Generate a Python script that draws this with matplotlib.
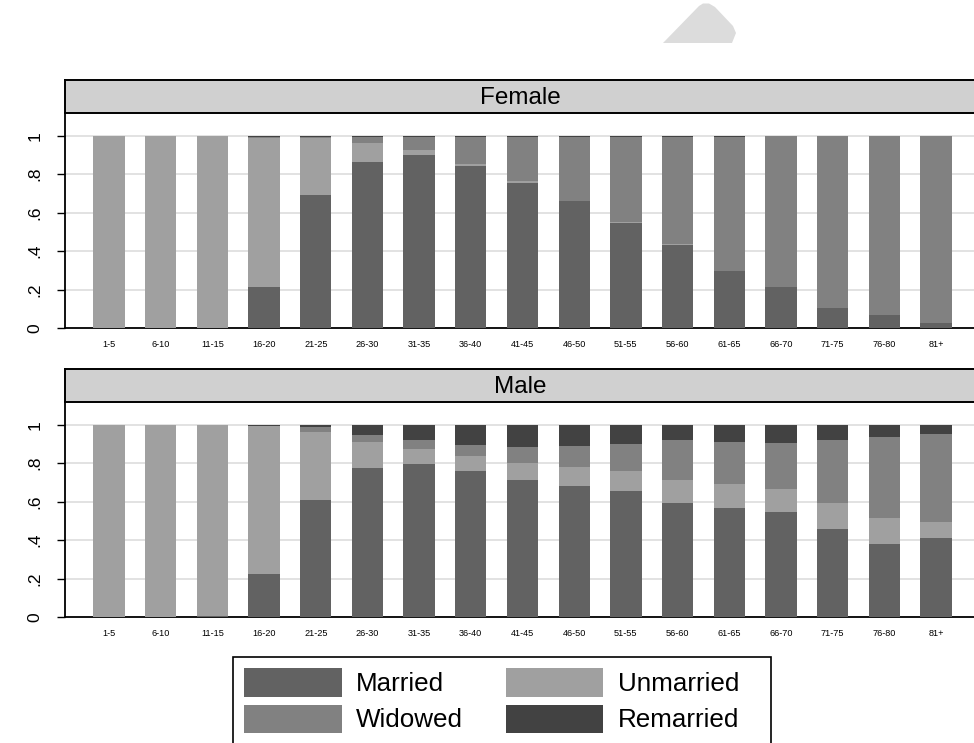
import matplotlib
matplotlib.use("Agg")
import matplotlib.pyplot as plt
import numpy as np
from matplotlib.patches import Patch, Polygon, Rectangle

plt.rcParams["font.family"] = ["Liberation Sans", "DejaVu Sans"]

age_groups = ["1-5", "6-10", "11-15", "16-20", "21-25", "26-30", "31-35", "36-40",
              "41-45", "46-50", "51-55", "56-60", "61-65", "66-70", "71-75", "76-80", "81+"]

female_married = [0, 0, 0, 0.214, 0.690, 0.865, 0.898, 0.844, 0.756, 0.659, 0.548,
                  0.434, 0.297, 0.214, 0.105, 0.069, 0.027]
female_unmarried = [1, 1, 1, 0.776, 0.296, 0.097, 0.026, 0.007, 0.009, 0.003, 0.002,
                    0.001, 0.001, 0, 0, 0, 0]
female_widowed = [0, 0, 0, 0.003, 0.009, 0.033, 0.071, 0.144, 0.230, 0.333, 0.445,
                  0.557, 0.694, 0.786, 0.895, 0.931, 0.973]
female_remarried = [0, 0, 0, 0.007, 0.005, 0.005, 0.005, 0.005, 0.005, 0.005, 0.005,
                    0.008, 0.008, 0, 0, 0, 0]

male_married = [0, 0, 0.005, 0.222, 0.608, 0.774, 0.795, 0.760, 0.712, 0.679, 0.656,
                0.594, 0.568, 0.545, 0.458, 0.378, 0.411]
male_unmarried = [1, 1, 0.995, 0.770, 0.356, 0.137, 0.080, 0.079, 0.090, 0.099, 0.104,
                  0.118, 0.123, 0.122, 0.134, 0.138, 0.084]
male_widowed = [0, 0, 0, 0.002, 0.022, 0.037, 0.047, 0.055, 0.083, 0.111, 0.139,
                0.206, 0.220, 0.239, 0.330, 0.422, 0.456]
male_remarried = [0, 0, 0, 0.006, 0.014, 0.052, 0.078, 0.106, 0.115, 0.111, 0.101,
                  0.082, 0.089, 0.094, 0.078, 0.062, 0.049]

status_labels = ["Married", "Unmarried", "Widowed", "Remarried"]
status_colors = ["#626262", "#a0a0a0", "#818181", "#424242"]

W, H = 974, 743
fig = plt.figure(figsize=(W / 100, H / 100), dpi=100)


def fx(px):
    return px / W


def fy(py):
    return 1 - py / H


def panel(top_px, bottom_px, strip_top_px, title, series):
    left_px, right_px = 65, 974
    ax = fig.add_axes([fx(left_px), fy(bottom_px), fx(right_px - left_px),
                       (bottom_px - top_px) / H])
    x = np.arange(len(age_groups))
    base = np.zeros(len(age_groups))
    for vals, col in zip(series, status_colors):
        vals = np.asarray(vals, dtype=float)
        ax.bar(x, vals, width=0.605, bottom=base, color=col, linewidth=0, zorder=3)
        base += vals
    ax.set_xlim(-0.851, 16.735)
    ax.set_ylim(0, 1.118)
    ax.set_yticks([0, 0.2, 0.4, 0.6, 0.8, 1.0])
    ax.set_yticklabels(["0", ".2", ".4", ".6", ".8", "1"])
    for yv in [0.2, 0.4, 0.6, 0.8, 1.0]:
        ax.axhline(yv, color="#e2e2e2", lw=1.4, zorder=1)
    ax.set_xticks(x)
    ax.set_xticklabels(age_groups, fontsize=6.6)
    ax.tick_params(axis="x", length=0, pad=8.5)
    ax.tick_params(axis="y", length=6, width=1.0, labelsize=12.5, pad=10,
                   labelrotation=90)
    for lab in ax.get_yticklabels():
        lab.set_va("center")
    for s in ["top", "right"]:
        ax.spines[s].set_visible(False)
    for s in ["left", "bottom"]:
        ax.spines[s].set_linewidth(1.3)
    # title strip
    sax = fig.add_axes([fx(left_px), fy(top_px), fx(right_px - left_px + 2),
                        (top_px - strip_top_px) / H])
    sax.set_facecolor("#d0d0d0")
    sax.set_xticks([])
    sax.set_yticks([])
    for s in sax.spines.values():
        s.set_linewidth(1.4)
    sax.text(0.4995, 0.44, title, ha="center", va="center", fontsize=17.5,
             transform=sax.transAxes)
    return ax


panel(113, 328, 80, "Female",
      [female_married, female_unmarried, female_widowed, female_remarried])
panel(402, 617, 369, "Male",
      [male_married, male_unmarried, male_widowed, male_remarried])

# legend frame
fig.add_artist(Rectangle((fx(233), fy(747)), fx(771 - 233), (747 - 657) / H,
                         facecolor="white", edgecolor="black", linewidth=1.2,
                         transform=fig.transFigure, zorder=0))

handles = [Patch(facecolor=c, edgecolor="none") for c in status_colors]
order = [0, 2, 1, 3]
leg = fig.legend([handles[i] for i in order], [status_labels[i] for i in order],
                 ncol=2, loc="upper left", bbox_to_anchor=(fx(238), fy(662)),
                 bbox_transform=fig.transFigure, fontsize=18.7, frameon=False,
                 handlelength=3.75, handleheight=1.3,
                 handletextpad=0.55, columnspacing=1.65, labelspacing=0.3,
                 borderpad=0.25, borderaxespad=0)

# decorative shape at the top
shape_px = [(663, 43), (699, 6), (703, 3.5), (709, 3.5), (715, 7), (733, 26),
            (736, 33), (732, 43)]
fig.add_artist(Polygon([(fx(a), fy(b)) for a, b in shape_px], closed=True,
                       facecolor="#dcdcdc", edgecolor="none",
                       transform=fig.transFigure))

fig.savefig("out.png", dpi=100)
